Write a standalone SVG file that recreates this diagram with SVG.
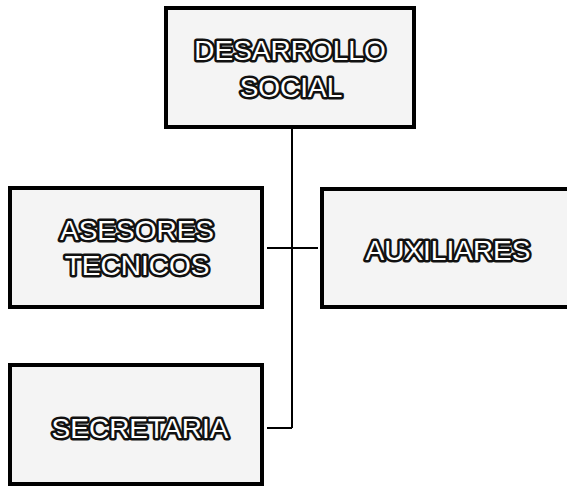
<svg xmlns="http://www.w3.org/2000/svg" width="567" height="486" viewBox="0 0 567 486">
<style>
.box{fill:#f4f4f4;stroke:#000;stroke-width:4}
.lbl{font-family:"Liberation Sans",Arial,sans-serif;font-size:28px;fill:#fff;stroke:#111;stroke-width:5;stroke-linejoin:round;paint-order:stroke;text-anchor:middle}
.con{fill:none;stroke:#000;stroke-width:2}
</style>
<rect width="567" height="486" fill="#fff"/>
<g id="connectors">
<line class="con" x1="292" y1="128" x2="292" y2="428"/>
<line class="con" x1="267" y1="248" x2="318" y2="248"/>
<line class="con" x1="267" y1="428" x2="292" y2="428"/>
</g>
<g id="desarrollo-social">
<rect class="box" x="166" y="8" width="248" height="119"/>
<text class="lbl" x="290" y="60">DESARROLLO</text>
<text class="lbl" x="291" y="97">SOCIAL</text>
</g>
<g id="asesores-tecnicos">
<rect class="box" x="10" y="188" width="252" height="119"/>
<text class="lbl" x="137" y="240">ASESORES</text>
<text class="lbl" x="137" y="275">TECNICOS</text>
</g>
<g id="auxiliares">
<rect class="box" x="322" y="189" width="250" height="118"/>
<text class="lbl" x="448" y="260">AUXILIARES</text>
</g>
<g id="secretaria">
<rect class="box" x="10" y="365" width="252" height="119"/>
<text class="lbl" x="140" y="438">SECRETARIA</text>
</g>
</svg>
